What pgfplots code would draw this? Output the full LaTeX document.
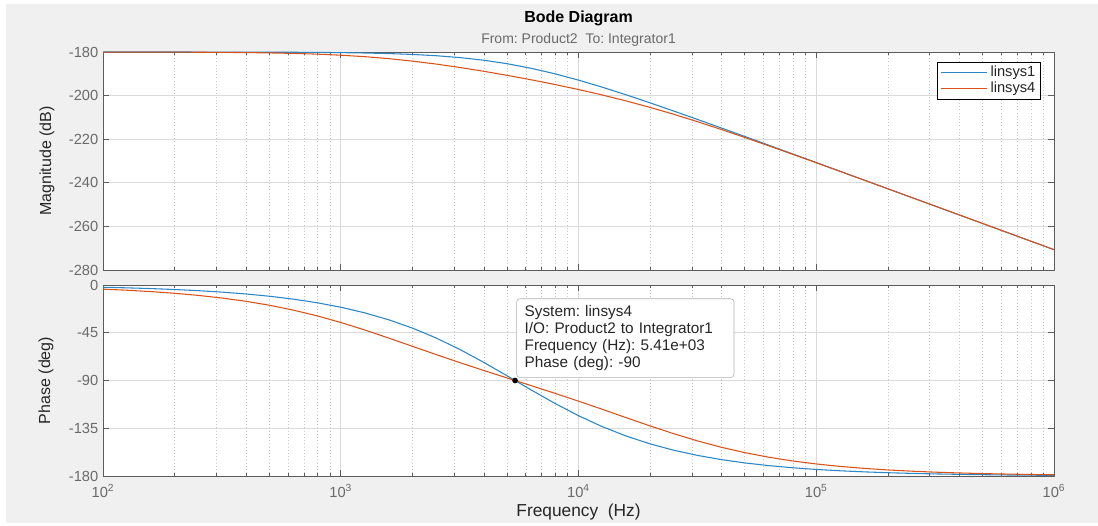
\documentclass[border=0pt]{standalone}
\usepackage{fontspec}
\setmainfont{Liberation Sans}
\usepackage{pgfplots}
\usepackage{pgfplotstable}
\pgfplotsset{compat=1.18}

\definecolor{figGray}{HTML}{F0F0F0}
\definecolor{axGray}{HTML}{5C5C5C}
\definecolor{tickText}{HTML}{6A6A6A}
\definecolor{gridGray}{HTML}{DADADA}
\definecolor{minorGray}{HTML}{C8C8C8}
\definecolor{sysBlue}{HTML}{2A86C4}
\definecolor{sysOrange}{HTML}{D95319}
\definecolor{labelText}{HTML}{262626}

% f [Hz], magnitude / phase of linsys1 and linsys4
\pgfplotstableread{
f        m1       p1      m4       p4
1.0000e2 -180.003 -2.12   -180.017 -3.91
1.2589e2 -180.005 -2.67   -180.027 -4.92
1.5849e2 -180.007 -3.36   -180.043 -6.19
1.9953e2 -180.012 -4.23   -180.069 -7.78
2.5119e2 -180.019 -5.32   -180.108 -9.77
3.1623e2 -180.030 -6.69   -180.170 -12.25
3.9811e2 -180.047 -8.42   -180.267 -15.31
5.0119e2 -180.074 -10.59  -180.416 -19.07
6.3096e2 -180.117 -13.30  -180.642 -23.63
7.9433e2 -180.185 -16.70  -180.978 -29.04
1.0000e3 -180.292 -20.94  -181.463 -35.31
1.2589e3 -180.458 -26.20  -182.138 -42.32
1.5849e3 -180.715 -32.65  -183.034 -49.86
1.9953e3 -181.108 -40.48  -184.164 -57.66
2.5119e3 -181.696 -49.80  -185.523 -65.46
3.1623e3 -182.552 -60.62  -187.085 -73.08
3.9811e3 -183.759 -72.70  -188.822 -80.44
5.0119e3 -185.382 -85.62  -190.708 -87.63
6.3096e3 -187.459 -98.79  -192.731 -94.78
7.9433e3 -189.982 -111.48 -194.893 -102.01
1.0000e4 -192.902 -123.18 -197.212 -109.46
1.2589e4 -196.144 -133.50 -199.714 -117.15
1.5849e4 -199.630 -142.30 -202.431 -124.98
1.9953e4 -203.289 -149.66 -205.379 -132.72
2.5119e4 -207.067 -155.70 -208.561 -140.12
3.1623e4 -210.923 -160.58 -211.954 -146.89
3.9811e4 -214.832 -164.52 -215.523 -152.88
5.0119e4 -218.773 -167.68 -219.228 -158.00
6.3096e4 -222.736 -170.20 -223.031 -162.28
7.9433e4 -226.713 -172.21 -226.903 -165.80
1.0000e5 -230.697 -173.81 -230.819 -168.65
1.2589e5 -234.689 -175.08 -234.766 -170.95
1.5849e5 -238.682 -176.09 -238.732 -172.79
1.9953e5 -242.679 -176.89 -242.710 -174.27
2.5119e5 -246.677 -177.53 -246.696 -175.44
3.1623e5 -250.675 -178.04 -250.688 -176.38
3.9811e5 -254.675 -178.44 -254.682 -177.12
5.0119e5 -258.674 -178.76 -258.679 -177.71
6.3096e5 -262.674 -179.02 -262.677 -178.18
7.9433e5 -266.674 -179.22 -266.676 -178.56
1.0000e6 -270.672 -179.38 -270.674 -178.85
}\bodedata

\pgfplotsset{
  bode/.style={
    scale only axis,
    width=713.25pt,
    anchor=south west,
    xmin=100, xmax=1e6,
    xtick={1e2,1e3,1e4,1e5,1e6},
    axis background/.style={fill=white},
    axis line style={draw=axGray, line width=0.6pt},
    tick style={draw=axGray, line width=0.5pt},
    major tick length=4.5pt,
    minor tick length=2.5pt,
    tick align=inside,
    xtick pos=both, ytick pos=both,
    grid=both,
    major grid style={draw=gridGray, line width=0.5pt},
    minor grid style={draw=minorGray, line width=0.4pt, dotted},
    tick label style={font=\fontsize{11}{13}\selectfont, text=tickText},
    /pgf/number format/assume math mode=true,
    every axis plot/.append style={line width=0.8pt},
  },
  sys1/.style={draw=sysBlue, no marks},
  sys4/.style={draw=sysOrange, no marks},
}

\begin{document}
\frenchspacing
\begin{tikzpicture}
  \path[use as bounding box] (0,0) rectangle (823.5pt,393.75pt);
  \fill[white] (0,0) rectangle (823.5pt,393.75pt);
  \fill[figGray] (4.5pt,1.5pt) rectangle (823.5pt,390.75pt);

  \begin{semilogxaxis}[
    bode,
    at={(77.25pt,191.25pt)},
    height=163.5pt,
    ymin=-280, ymax=-180,
    ytick={-280,-260,-240,-220,-200,-180},
    xticklabels={},
    legend style={
      at={(1,1)}, anchor=north east, xshift=-9.75pt, yshift=-7.5pt,
      draw=black, line width=0.5pt, fill=white,
      font=\fontsize{11}{12}\selectfont, text=labelText,
      inner xsep=2pt, inner ysep=1pt, row sep=-1.5pt,
      cells={anchor=west},
    },
    legend image code/.code={\draw[#1, line width=0.6pt] (0pt,0pt) -- (35pt,0pt);},
  ]
    \addplot[sys1] table[x=f, y=m1] {\bodedata};
    \addlegendentry{linsys1}
    \addplot[sys4] table[x=f, y=m4] {\bodedata};
    \addlegendentry{linsys4}
  \end{semilogxaxis}

  \begin{semilogxaxis}[
    bode,
    at={(77.25pt,36.75pt)},
    height=143.25pt,
    ymin=-180, ymax=0,
    ytick={-180,-135,-90,-45,0},
    xticklabels={10\textsuperscript{2},10\textsuperscript{3},10\textsuperscript{4},10\textsuperscript{5},10\textsuperscript{6}},
    xticklabel style={yshift=-3pt},
  ]
    \addplot[sys1] table[x=f, y=p1] {\bodedata};
    \addplot[sys4] table[x=f, y=p4] {\bodedata};
    \addplot[only marks, mark=*, mark size=1.7pt, black] coordinates {(5410,-90)};
    \node[draw=gray!60, fill=white, rounded corners=2.5pt, anchor=south west,
          align=left, text width=151pt, inner xsep=6pt, inner ysep=5pt,
          font=\fontsize{11.5}{12.8}\selectfont, text=labelText,
          xshift=1pt, yshift=2pt]
      at (axis cs:5410,-90)
      {System: linsys4\\I/O: Product2 to Integrator1\\Frequency (Hz): 5.41e+03\\Phase (deg): -90};
  \end{semilogxaxis}

  \node[font=\bfseries\fontsize{12}{14}\selectfont, text=black] at (433.9pt,380.25pt) {Bode Diagram};
  \node[font=\fontsize{10.5}{12}\selectfont, text=tickText] at (433.9pt,363.75pt) {From: Product2\ \ To: Integrator1};
  \node[rotate=90, font=\fontsize{12}{14}\selectfont, text=labelText] at (35.25pt,273pt) {Magnitude (dB)};
  \node[rotate=90, font=\fontsize{12}{14}\selectfont, text=labelText] at (34.5pt,108.4pt) {Phase (deg)};
  \node[font=\fontsize{13}{15}\selectfont, text=labelText] at (433.9pt,9.75pt) {Frequency\ \ (Hz)};
\end{tikzpicture}
\end{document}
